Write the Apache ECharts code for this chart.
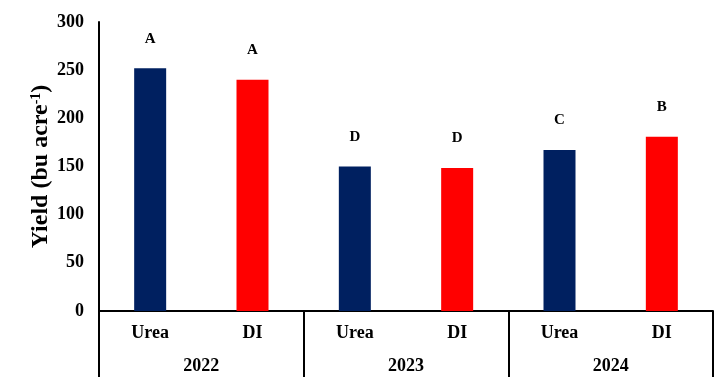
<!DOCTYPE html>
<html>
<head>
<meta charset="utf-8">
<script src="https://cdn.jsdelivr.net/npm/echarts@6/dist/echarts.min.js"></script>
<style>
  html, body { margin: 0; padding: 0; background: #fff; }
  #chart { width: 720px; height: 378px; }
</style>
</head>
<body>
<div id="chart"></div>
<script>
// 数据
const treatments = ['Urea', 'DI', 'Urea', 'DI', 'Urea', 'DI']
const years = ['2022', '2023', '2024']
const yields = [252, 240, 150, 148.5, 167, 181]
const letters = ['A', 'A', 'D', 'D', 'C', 'B']
const yTicks = { min: 0, max: 300, interval: 50 }

const font = 'Liberation Serif, Times New Roman, serif'
const colors = { Urea: '#002060', DI: '#FF0000' }

let chart = echarts.init(document.getElementById('chart'))
chart.setOption({
  animation: false,
  grid: { left: 99, right: 7, top: 22, bottom: 67 },
  xAxis: [
    {
      type: 'category',
      data: treatments,
      position: 'bottom',
      axisLine: { lineStyle: { color: '#000', width: 2 } },
      axisTick: { show: false },
      axisLabel: { color: '#000', fontFamily: font, fontWeight: 'bold', fontSize: 18, margin: 13 }
    },
    {
      type: 'category',
      data: years,
      position: 'bottom',
      axisLine: { show: false },
      axisTick: { show: true, length: 66, lineStyle: { color: '#000', width: 2 } },
      axisLabel: { color: '#000', fontFamily: font, fontWeight: 'bold', fontSize: 18, margin: 46 }
    }
  ],
  yAxis: {
    type: 'value',
    min: yTicks.min,
    max: yTicks.max,
    interval: yTicks.interval,
    axisLine: { show: true, lineStyle: { color: '#000', width: 2 } },
    axisTick: { show: false },
    splitLine: { show: false },
    axisLabel: { color: '#000', fontFamily: font, fontWeight: 'bold', fontSize: 18, margin: 15 },
    name: '{a|Yield (bu acre}{b|-1}{a|)}',
    nameLocation: 'middle',
    nameGap: 46,
    nameMoveOverlap: false,
    nameTextStyle: {
      rich: {
        a: { fontFamily: font, fontWeight: 'bold', fontSize: 24, color: '#000' },
        b: { fontFamily: font, fontWeight: 'bold', fontSize: 14, color: '#000', verticalAlign: 'top', padding: [0, 0, 10, 0] }
      }
    }
  },
  series: [
    {
      type: 'bar',
      xAxisIndex: 0,
      barWidth: 32,
      data: yields.map((v, i) => ({
        value: v,
        itemStyle: { color: colors[treatments[i]] }
      })),
      label: {
        show: true,
        position: 'top',
        distance: 22,
        formatter: p => letters[p.dataIndex],
        color: '#000',
        fontFamily: font,
        fontWeight: 'bold',
        fontSize: 15
      }
    }
  ]
})
</script>
</body>
</html>
